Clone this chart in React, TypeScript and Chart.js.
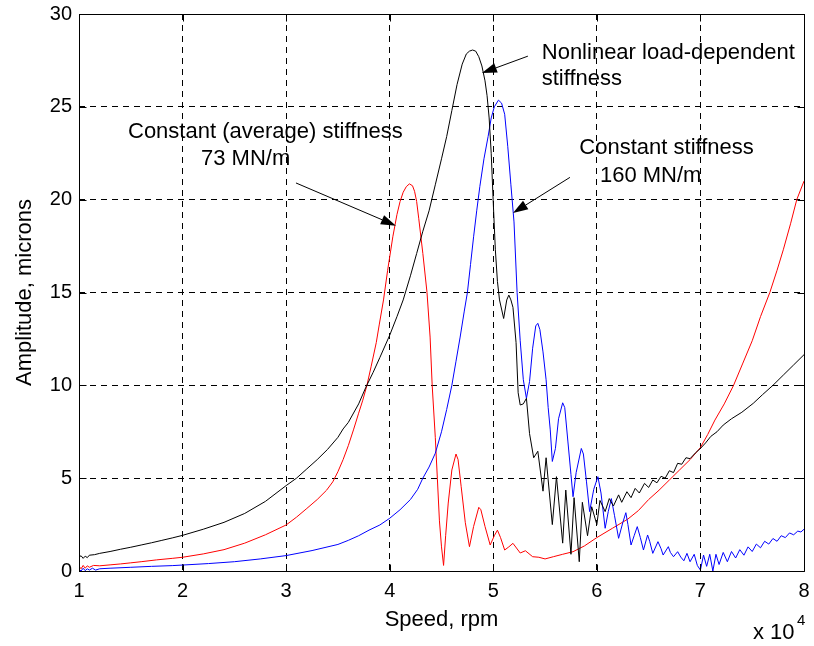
import React, { useEffect, useRef } from "react";
import { Chart, registerables } from "chart.js";

Chart.register(...registerables);

const FONT = "'Liberation Sans', Arial, Helvetica, sans-serif";

// Speed in units of 10^4 rpm
const xTicks = [1, 2, 3, 4, 5, 6, 7, 8];
const yTicks = [0, 5, 10, 15, 20, 25, 30];

// Constant (average) stiffness 73 MN/m  (red)
const redX = [1.0, 1.02, 1.04, 1.06, 1.08, 1.1, 1.14, 1.2, 1.3, 1.4, 1.5, 1.6, 1.75, 1.9, 2.0, 2.2, 2.4, 2.6, 2.8, 3.0, 3.1, 3.2, 3.3, 3.39, 3.45, 3.5, 3.55, 3.6, 3.65, 3.7, 3.74, 3.78, 3.82, 3.87, 3.9, 3.94, 3.98, 4.03, 4.07, 4.1, 4.13, 4.16, 4.19, 4.22, 4.24, 4.26, 4.28, 4.32, 4.36, 4.39, 4.41, 4.44, 4.46, 4.48, 4.5, 4.52, 4.54, 4.565, 4.6, 4.64, 4.66, 4.69, 4.73, 4.77, 4.81, 4.86, 4.88, 4.92, 4.97, 5.01, 5.04, 5.07, 5.11, 5.15, 5.19, 5.26, 5.31, 5.38, 5.44, 5.5, 5.58, 5.67, 5.77, 5.88, 6.0, 6.15, 6.3, 6.4, 6.5, 6.6, 6.7, 6.8, 6.9, 7.0, 7.07, 7.14, 7.23, 7.32, 7.41, 7.5, 7.58, 7.67, 7.74, 7.8, 7.87, 7.93, 8.0];
const redY = [0.25, 0.12, 0.3, 0.15, 0.28, 0.2, 0.3, 0.28, 0.33, 0.38, 0.44, 0.5, 0.6, 0.68, 0.74, 0.92, 1.15, 1.5, 1.95, 2.48, 2.9, 3.37, 3.85, 4.35, 4.8, 5.35, 6.0, 6.75, 7.6, 8.5, 9.2, 10.0, 11.0, 12.3, 13.3, 14.6, 16.2, 18.0, 19.2, 19.9, 20.4, 20.7, 20.85, 20.75, 20.45, 19.9, 19.0, 17.1, 15.0, 12.6, 10.0, 7.2, 5.0, 2.7, 1.3, 0.3, 1.9, 3.66, 5.44, 6.3, 6.0, 4.54, 2.6, 1.31, 2.4, 3.43, 3.3, 2.4, 1.4, 1.9, 2.2, 1.8, 1.13, 1.3, 1.49, 0.97, 1.09, 0.77, 0.74, 0.65, 0.77, 0.9, 1.04, 1.35, 1.8, 2.3, 2.8, 3.25, 3.85, 4.35, 4.9, 5.45, 6.0, 6.65, 7.35, 8.13, 9.0, 10.0, 11.2, 12.4, 13.7, 15.0, 16.2, 17.3, 18.7, 20.0, 21.0];

// Constant stiffness 160 MN/m (blue)
const blueX = [1.0, 1.02, 1.04, 1.06, 1.08, 1.1, 1.13, 1.16, 1.2, 1.3, 1.5, 1.7, 1.9, 2.0, 2.25, 2.5, 2.75, 3.0, 3.25, 3.5, 3.6, 3.7, 3.8, 3.905, 4.0, 4.1, 4.2, 4.27, 4.32, 4.38, 4.44, 4.5, 4.55, 4.6, 4.64, 4.68, 4.72, 4.75, 4.78, 4.81, 4.84, 4.87, 4.91, 4.95, 4.98, 5.01, 5.05, 5.08, 5.11, 5.14, 5.17, 5.2, 5.23, 5.26, 5.29, 5.32, 5.35, 5.38, 5.41, 5.43, 5.45, 5.48, 5.51, 5.53, 5.55, 5.57, 5.6, 5.63, 5.67, 5.69, 5.72, 5.75, 5.77, 5.8, 5.85, 5.87, 5.9, 5.93, 5.97, 6.01, 6.04, 6.08, 6.11, 6.14, 6.17, 6.21, 6.25, 6.28, 6.3, 6.33, 6.36, 6.39, 6.42, 6.45, 6.49, 6.51, 6.54, 6.59, 6.62, 6.64, 6.69, 6.71, 6.74, 6.78, 6.81, 6.84, 6.87, 6.9, 6.94, 6.97, 7.0, 7.03, 7.06, 7.09, 7.12, 7.15, 7.18, 7.22, 7.26, 7.3, 7.34, 7.38, 7.42, 7.46, 7.5, 7.54, 7.58, 7.62, 7.66, 7.7, 7.74, 7.78, 7.82, 7.86, 7.9, 7.94, 7.97, 8.0];
const blueY = [0.1, 0.0, 0.15, 0.02, 0.12, 0.05, 0.15, 0.05, 0.12, 0.15, 0.2, 0.25, 0.29, 0.32, 0.4, 0.5, 0.65, 0.83, 1.1, 1.43, 1.65, 1.9, 2.2, 2.48, 2.84, 3.3, 3.85, 4.4, 5.0, 5.6, 6.34, 7.5, 8.7, 10.0, 11.3, 12.6, 14.0, 15.0, 16.5, 18.0, 19.4, 20.7, 22.2, 23.4, 24.4, 25.0, 25.36, 25.2, 24.6, 22.85, 20.8, 18.8, 15.0, 12.4, 10.3, 9.3, 10.2, 12.0, 13.2, 13.34, 13.0, 11.8, 10.3, 8.8, 7.6, 5.9, 6.6, 8.2, 9.06, 8.8, 7.0, 5.2, 4.0, 5.3, 6.6, 6.3, 4.8, 3.2, 4.4, 5.08, 4.2, 2.3, 3.2, 3.9, 3.0, 1.76, 2.6, 3.14, 2.5, 1.4, 1.9, 2.39, 1.8, 1.13, 1.94, 1.6, 0.95, 1.58, 1.2, 0.86, 1.31, 1.0, 0.77, 1.04, 0.75, 0.55, 0.95, 0.5, 0.9, 0.3, 0.05, 0.86, 0.25, 0.9, 0.0, 0.9, 0.35, 1.0, 0.5, 1.05, 0.7, 1.15, 0.85, 1.3, 1.05, 1.45, 1.25, 1.6, 1.45, 1.75, 1.6, 1.9, 1.8, 2.05, 1.95, 2.15, 2.1, 2.25];

// Nonlinear load-dependent stiffness (black)
const blackX = [1.0, 1.02, 1.04, 1.06, 1.08, 1.1, 1.15, 1.2, 1.3, 1.4, 1.5, 1.6, 1.7, 1.8, 1.9, 2.0, 2.2, 2.4, 2.6, 2.8, 3.0, 3.1, 3.2, 3.3, 3.4, 3.5, 3.55, 3.6, 3.7, 3.77, 3.84, 3.905, 4.0, 4.07, 4.13, 4.2, 4.26, 4.32, 4.38, 4.44, 4.5, 4.55, 4.6, 4.65, 4.7, 4.74, 4.77, 4.8, 4.83, 4.86, 4.89, 4.92, 4.94, 4.96, 4.98, 5.0, 5.02, 5.04, 5.06, 5.1, 5.13, 5.15, 5.17, 5.19, 5.22, 5.24, 5.26, 5.29, 5.32, 5.35, 5.39, 5.43, 5.48, 5.51, 5.57, 5.61, 5.67, 5.7, 5.75, 5.78, 5.83, 5.86, 5.91, 5.95, 6.0, 6.03, 6.08, 6.12, 6.16, 6.21, 6.24, 6.29, 6.33, 6.37, 6.41, 6.46, 6.5, 6.54, 6.58, 6.62, 6.66, 6.7, 6.74, 6.78, 6.82, 6.86, 6.9, 6.95, 7.0, 7.05, 7.1, 7.16, 7.22, 7.3, 7.4, 7.51, 7.6, 7.7, 7.8, 7.9, 8.0];
const blackY = [0.75, 0.82, 0.68, 0.8, 0.72, 0.85, 0.88, 0.95, 1.05, 1.17, 1.28, 1.4, 1.52, 1.65, 1.78, 1.92, 2.25, 2.62, 3.1, 3.75, 4.6, 5.0, 5.5, 6.0, 6.55, 7.2, 7.65, 8.0, 9.0, 9.9, 10.7, 11.5, 12.7, 13.7, 14.6, 15.9, 17.1, 18.3, 19.4, 20.8, 22.2, 23.4, 24.8, 26.2, 27.3, 27.85, 28.0, 28.06, 28.0, 27.7, 27.2, 26.4, 25.6, 24.4, 22.5, 19.8, 17.3, 15.6, 14.6, 13.6, 14.6, 14.86, 14.6, 14.2, 12.3, 9.6, 8.94, 9.0, 9.3, 7.4, 6.1, 6.45, 4.3, 6.1, 2.5, 5.08, 1.5, 4.36, 0.9, 3.95, 0.5, 3.7, 1.9, 3.46, 2.5, 3.8, 3.2, 3.9, 3.5, 4.1, 3.7, 4.27, 3.95, 4.45, 4.2, 4.72, 4.5, 4.9, 4.75, 5.1, 5.0, 5.4, 5.3, 5.8, 5.75, 6.1, 6.05, 6.35, 6.6, 6.9, 7.25, 7.5, 7.86, 8.2, 8.55, 9.03, 9.5, 10.0, 10.55, 11.1, 11.65];

const xTitle = "Speed, rpm";
const yTitle = "Amplitude, microns";

// Annotation texts anchored in data coordinates (left, baseline)
const notes = [
  { text: "Constant (average) stiffness", x: 1.473, y: 23.32 },
  { text: "73 MN/m", x: 2.178, y: 21.87 },
  { text: "Nonlinear load-dependent", x: 5.468, y: 27.58 },
  { text: "stiffness", x: 5.468, y: 26.18 },
  { text: "Constant stiffness", x: 5.831, y: 22.46 },
  { text: "160 MN/m", x: 6.03, y: 20.95 },
];
const arrows = [
  { fx: 3.095, fy: 20.9, tx: 4.06, ty: 18.6 },
  { fx: 5.334, fy: 27.73, tx: 4.89, ty: 26.82 },
  { fx: 5.74, fy: 21.2, tx: 5.19, ty: 19.28 },
];

const pairs = (xs: number[], ys: number[]) => xs.map((x, i) => ({ x, y: ys[i] }));

const decorPlugin = {
  id: "decor",
  afterDraw(chart: any) {
    const { ctx, chartArea: a, scales } = chart;
    const xs = scales.x;
    const ys = scales.y;
    ctx.save();
    ctx.strokeStyle = "#000";
    ctx.fillStyle = "#000";
    ctx.lineWidth = 1;
    ctx.setLineDash([]);
    // frame
    const L = Math.round(a.left) + 0.5;
    const R = Math.round(a.right) + 0.5;
    const T = Math.round(a.top) + 0.5;
    const B = Math.round(a.bottom) + 0.5;
    ctx.beginPath();
    ctx.rect(L, T, R - L, B - T);
    ctx.stroke();
    // inward ticks
    const tl = 7;
    ctx.beginPath();
    xTicks.forEach((v) => {
      const px = Math.round(xs.getPixelForValue(v)) + 0.5;
      ctx.moveTo(px, B);
      ctx.lineTo(px, B - tl);
      ctx.moveTo(px, T);
      ctx.lineTo(px, T + tl);
    });
    yTicks.forEach((v) => {
      const py = Math.round(ys.getPixelForValue(v)) + 0.5;
      ctx.moveTo(L, py);
      ctx.lineTo(L + tl, py);
      ctx.moveTo(R, py);
      ctx.lineTo(R - tl, py);
    });
    ctx.stroke();

    // axis titles
    ctx.font = `22px ${FONT}`;
    ctx.textAlign = "center";
    ctx.textBaseline = "middle";
    ctx.fillText(xTitle, (a.left + a.right) / 2, a.bottom + 49);
    ctx.save();
    ctx.translate(25, (a.top + a.bottom) / 2);
    ctx.rotate(-Math.PI / 2);
    ctx.fillText(yTitle, 0, 0);
    ctx.restore();

    // exponent label
    ctx.textAlign = "left";
    ctx.textBaseline = "alphabetic";
    ctx.font = `22px ${FONT}`;
    ctx.fillText("x 10", a.right - 51, a.bottom + 68);
    ctx.font = `15px ${FONT}`;
    ctx.fillText("4", a.right - 7, a.bottom + 54);

    // annotations
    ctx.font = `22px ${FONT}`;
    notes.forEach((n) => {
      ctx.fillText(n.text, xs.getPixelForValue(n.x), ys.getPixelForValue(n.y));
    });
    arrows.forEach((ar) => {
      const x0 = xs.getPixelForValue(ar.fx);
      const y0 = ys.getPixelForValue(ar.fy);
      const x1 = xs.getPixelForValue(ar.tx);
      const y1 = ys.getPixelForValue(ar.ty);
      const ang = Math.atan2(y1 - y0, x1 - x0);
      const hl = 15;
      const hw = 5;
      const bx = x1 - hl * Math.cos(ang);
      const by = y1 - hl * Math.sin(ang);
      ctx.beginPath();
      ctx.moveTo(x0, y0);
      ctx.lineTo(bx, by);
      ctx.stroke();
      ctx.beginPath();
      ctx.moveTo(x1, y1);
      ctx.lineTo(bx + hw * Math.sin(ang), by - hw * Math.cos(ang));
      ctx.lineTo(bx - hw * Math.sin(ang), by + hw * Math.cos(ang));
      ctx.closePath();
      ctx.fill();
    });
    ctx.restore();
  },
};

export default function App() {
  const ref = useRef<HTMLCanvasElement | null>(null);
  useEffect(() => {
    if (!ref.current) return;
    const tickFont = { family: FONT, size: 20 };
    const chart = new Chart(ref.current, {
      type: "line",
      data: {
        datasets: [
          { label: "Nonlinear load-dependent stiffness", data: pairs(blackX, blackY), borderColor: "#000000", backgroundColor: "#000000" },
          { label: "Constant stiffness 160 MN/m", data: pairs(blueX, blueY), borderColor: "#0000ff", backgroundColor: "#0000ff" },
          { label: "Constant (average) stiffness 73 MN/m", data: pairs(redX, redY), borderColor: "#ff0000", backgroundColor: "#ff0000" },
        ],
      },
      options: {
        animation: false,
        responsive: false,
        maintainAspectRatio: false,
        devicePixelRatio: 1,
        layout: { padding: { left: 0, right: 10, top: 14, bottom: 0 } },
        plugins: { legend: { display: false }, tooltip: { enabled: false } },
        elements: { point: { radius: 0 }, line: { borderWidth: 1, tension: 0 } },
        scales: {
          x: {
            type: "linear",
            min: 1,
            max: 8,
            afterBuildTicks: (s: any) => {
              s.ticks = xTicks.map((v) => ({ value: v }));
            },
            ticks: { font: tickFont, color: "#000", padding: 8, maxRotation: 0, autoSkip: false },
            grid: { color: "#000", lineWidth: 1, drawTicks: false },
            border: { display: false, dash: [6, 5] },
            afterFit: (s: any) => {
              s.height = 75;
              s.paddingLeft = 0;
              s.paddingRight = 0;
            },
          },
          y: {
            type: "linear",
            min: 0,
            max: 30,
            afterBuildTicks: (s: any) => {
              s.ticks = yTicks.map((v) => ({ value: v }));
            },
            ticks: { font: tickFont, color: "#000", padding: 7, autoSkip: false },
            grid: { color: "#000", lineWidth: 1, drawTicks: false },
            border: { display: false, dash: [6, 5] },
            afterFit: (s: any) => {
              s.width = 79;
              s.paddingTop = 0;
              s.paddingBottom = 0;
            },
          },
        },
      },
      plugins: [decorPlugin],
    } as any);
    return () => chart.destroy();
  }, []);
  return (
    <div style={{ position: "absolute", left: 0, top: 0, width: 814, height: 646, background: "#fff" }}>
      <canvas ref={ref} width={814} height={646} style={{ display: "block" }} />
    </div>
  );
}
